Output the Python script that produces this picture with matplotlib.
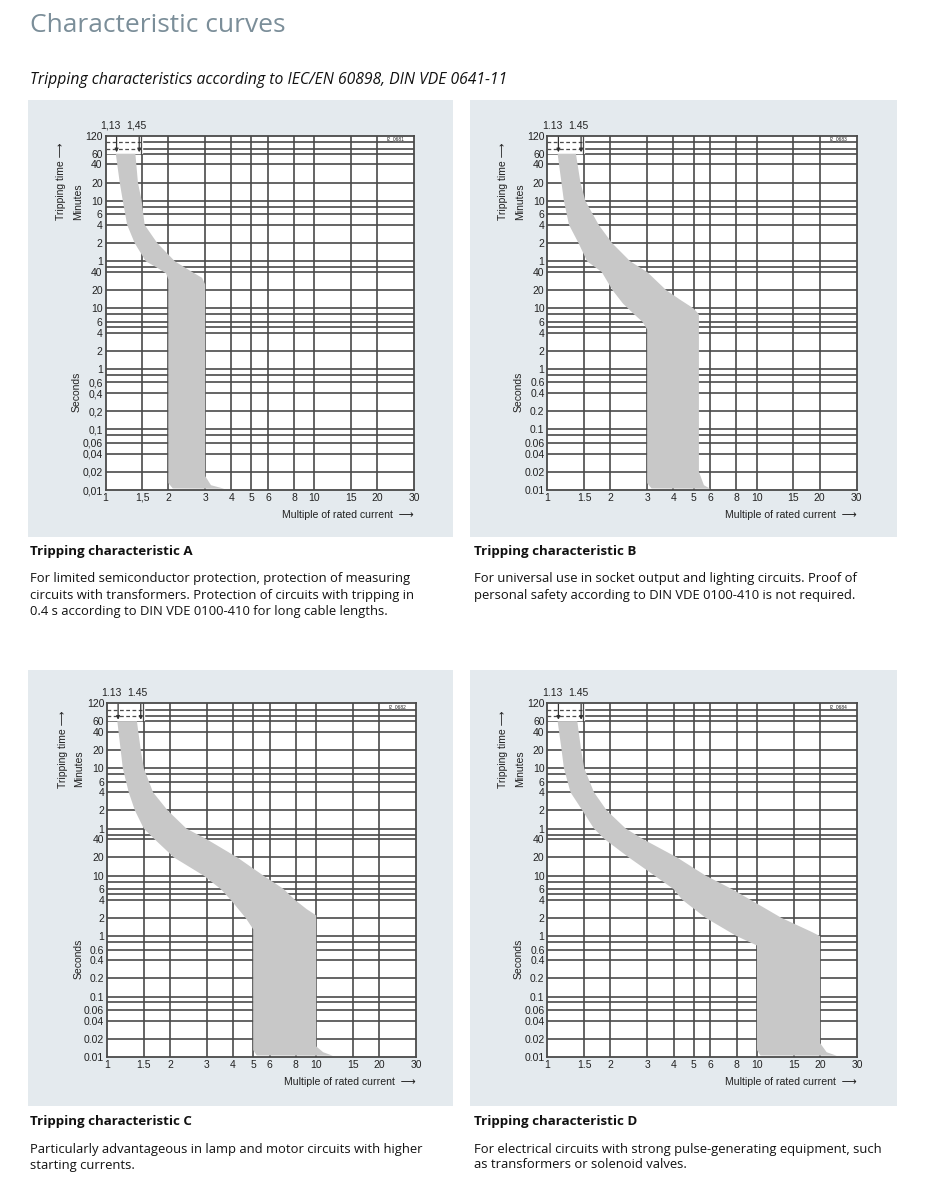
import numpy as np
import matplotlib
matplotlib.use("Agg")
import matplotlib.pyplot as plt
from matplotlib.patches import Rectangle
from matplotlib.transforms import blended_transform_factory

W, H = 925, 1200

# Tripping bands: multiple of rated current (x) and tripping time in seconds (t),
# read along the left (lower) and right (upper) edge of each grey band.
a_left_x = [1.12, 1.17, 1.21, 1.27, 1.38, 1.56, 1.75, 1.95, 2.0, 2.0, 2.1]
a_left_t = [3600, 1200, 600, 240, 120, 60, 48, 38, 30, 0.013, 0.0106]
a_right_x = [1.39, 1.43, 1.49, 1.54, 1.77, 2.15, 2.6, 2.9, 3.0, 3.0, 3.2, 3.7]
a_right_t = [3600, 1200, 600, 240, 120, 60, 40, 32, 25, 0.017, 0.012, 0.0105]

b_left_x = [1.12, 1.20, 1.27, 1.41, 1.55, 1.82, 2.05, 2.3, 2.6, 2.85, 3.0, 3.0, 3.15]
b_left_t = [3600, 600, 240, 120, 60, 40, 20, 12, 8, 6, 4.5, 0.013, 0.0106]
b_right_x = [1.37, 1.44, 1.52, 1.76, 2.04, 2.49, 3.0, 3.7, 4.3, 5.0, 5.3, 5.3, 5.6, 6.0]
b_right_t = [3600, 1200, 600, 240, 120, 60, 40, 20, 14, 10, 8, 0.02, 0.012, 0.0105]

c_left_x = [1.12, 1.19, 1.27, 1.36, 1.5, 1.69, 2.09, 2.9, 3.5, 3.9, 4.6, 5.0, 5.0, 5.2]
c_left_t = [3600, 600, 240, 120, 60, 40, 20, 10, 6, 4, 2, 1.3, 0.013, 0.0106]
c_right_x = [1.39, 1.45, 1.5, 1.66, 1.95, 2.4, 3.0, 4.2, 5.6, 7.0, 7.9, 9.0, 10.0, 10.0, 10.8, 12.0]
c_right_t = [3600, 1200, 600, 240, 120, 60, 40, 20, 10, 6, 4, 2.8, 2.2, 0.015, 0.012, 0.0105]

d_left_x = [1.12, 1.17, 1.2, 1.29, 1.47, 1.67, 1.88, 2.45, 3.25, 4.0, 4.4, 5.7, 8.0, 10.0, 10.0, 10.4]
d_left_t = [3600, 1200, 600, 240, 120, 60, 40, 20, 10, 6, 4, 2, 1, 0.7, 0.013, 0.0106]
d_right_x = [1.39, 1.45, 1.5, 1.67, 1.92, 2.37, 2.87, 4.16, 5.7, 7.6, 9.3, 13.1, 18.0, 20.0, 20.0, 21.5, 24.0]
d_right_t = [3600, 1200, 600, 240, 120, 60, 40, 20, 10, 6, 4, 2, 1.2, 1.0, 0.017, 0.012, 0.0105]

# axis ticks (time in seconds; labels show minutes above 1 min)
x_ticks = [1, 1.5, 2, 3, 4, 5, 6, 8, 10, 15, 20, 30]
x_labels = ["1", "1.5", "2", "3", "4", "5", "6", "8", "10", "15", "20", "30"]
y_ticks = [7200, 3600, 2400, 1200, 600, 360, 240, 120, 60, 40, 20, 10, 6, 4, 2, 1,
           0.6, 0.4, 0.2, 0.1, 0.06, 0.04, 0.02, 0.01]
y_labels = ["120", "60", "40", "20", "10", "6", "4", "2", "1", "40", "20", "10", "6", "4",
            "2", "1", "0.6", "0.4", "0.2", "0.1", "0.06", "0.04", "0.02", "0.01"]
y_grid = [3600, 2400, 1200, 600, 480, 360, 240, 120, 60, 48, 40, 20, 10, 8, 6, 5, 4, 2,
          1, 0.8, 0.6, 0.4, 0.2, 0.1, 0.08, 0.06, 0.04, 0.02]
y_grid_top = [5580, 4320]   # the two lines dashed inside the 1.13 / 1.45 box

panels = [
    dict(key="A", box=(28, 100, 453, 537), ax=(105.5, 135.5, 414, 490), sep=",",
         code="I2_0681", bands=(a_left_x, a_left_t, a_right_x, a_right_t),
         cap_y=551, cap_x=30,
         text=["For limited semiconductor protection, protection of measuring",
               "circuits with transformers. Protection of circuits with tripping in",
               "0.4 s according to DIN VDE 0100-410 for long cable lengths."]),
    dict(key="B", box=(470, 100, 897, 537), ax=(547.3, 135.5, 856.5, 490), sep=".",
         code="I2_0683", bands=(b_left_x, b_left_t, b_right_x, b_right_t),
         cap_y=551, cap_x=474,
         text=["For universal use in socket output and lighting circuits. Proof of",
               "personal safety according to DIN VDE 0100-410 is not required."]),
    dict(key="C", box=(28, 670, 453, 1106), ax=(107, 703, 416, 1057), sep=".",
         code="I2_0682", bands=(c_left_x, c_left_t, c_right_x, c_right_t),
         cap_y=1121, cap_x=30,
         text=["Particularly advantageous in lamp and motor circuits with higher",
               "starting currents."]),
    dict(key="D", box=(470, 670, 897, 1106), ax=(547.3, 703, 857, 1057), sep=".",
         code="I2_0684", bands=(d_left_x, d_left_t, d_right_x, d_right_t),
         cap_y=1121, cap_x=474,
         text=["For electrical circuits with strong pulse-generating equipment, such",
               "as transformers or solenoid valves."]),
]

PANEL_BG = "#e4eaee"
BAND = "#c8c8c8"
GRID = "#4a4a4a"
TXT = "#222222"
LBL_FONT = ["Liberation Sans", "DejaVu Sans"]
CAP_FONT = ["Open Sans", "DejaVu Sans"]


def rect(l, t, r, b):
    return [l / W, 1 - b / H, (r - l) / W, (b - t) / H]


def ftext(x, y, s, **kw):
    fig.text(x / W, 1 - y / H, s, **kw)


fig = plt.figure(figsize=(W / 100, H / 100), dpi=100)
fig.patch.set_facecolor("white")

ftext(30, 25, "Characteristic curves", fontsize=19, color="#7b8e99",
      family=CAP_FONT, va="center")
ftext(30, 80, "Tripping characteristics according to IEC/EN 60898, DIN VDE 0641-11",
      fontsize=11.3, color="#111111", family=CAP_FONT, style="italic", va="center")

for p in panels:
    l, t, r, b = p["box"]
    fig.patches.append(Rectangle((l / W, 1 - b / H), (r - l) / W, (b - t) / H,
                                 transform=fig.transFigure, facecolor=PANEL_BG,
                                 edgecolor="none", zorder=-5))

    al, at, ar, ab = p["ax"]
    ax = fig.add_axes(rect(al, at, ar, ab))
    ax.set_zorder(2)
    ax.set_facecolor("white")
    ax.set_xscale("log")
    ax.set_yscale("log")
    ax.set_xlim(1, 30)
    ax.set_ylim(0.01, 7200)

    # grid
    for gx in x_ticks[1:-1]:
        ax.axvline(gx, color=GRID, lw=1.2, zorder=1)
    for gy in y_grid:
        ax.axhline(gy, color=GRID, lw=1.2, zorder=1)
    for gy in y_grid_top:
        ax.plot([1.5, 30], [gy, gy], color=GRID, lw=1.2, zorder=1)

    # white box with the 1.13 / 1.45 markers
    ax.fill([1.0, 1.5, 1.5, 1.0], [7200, 7200, 3700, 3700], color="white", zorder=1.5)
    for gy in y_grid_top:
        ax.plot([1.0, 1.48], [gy, gy], color=GRID, lw=0.9, ls=(0, (3, 2)), zorder=1.6)
    for mx in (1.13, 1.45):
        ax.annotate("", xy=(mx, 3800), xytext=(mx, 6900),
                    arrowprops=dict(arrowstyle="-|>", color="#333333", lw=0.9,
                                    mutation_scale=5, shrinkA=0, shrinkB=0),
                    zorder=2)
    ax.plot([1.48, 1.48], [7200, 3600], color=GRID, lw=0.9, zorder=1.6)

    # band
    lx, lt, rx, rt = p["bands"]
    ax.fill(np.concatenate([lx, rx[::-1]]), np.concatenate([lt, rt[::-1]]),
            color=BAND, lw=0, zorder=3)

    for s in ax.spines.values():
        s.set_color(GRID)
        s.set_linewidth(1.3)
        s.set_zorder(4)

    sep = p["sep"]
    ax.set_xticks(x_ticks, [v.replace(".", sep) for v in x_labels])
    ax.set_yticks(y_ticks, [v.replace(".", sep) for v in y_labels])
    ax.minorticks_off()
    ax.tick_params(length=0, labelsize=7.5, labelcolor=TXT, pad=2)
    for lab in ax.get_xticklabels() + ax.get_yticklabels():
        lab.set_family(LBL_FONT)

    tr = blended_transform_factory(ax.transData, ax.transAxes)
    ax.text(1.055, 1.013, "1.13".replace(".", sep), transform=tr, ha="center",
            va="bottom", fontsize=7.5, color=TXT, family=LBL_FONT)
    ax.text(1.40, 1.013, "1.45".replace(".", sep), transform=tr, ha="center",
            va="bottom", fontsize=7.5, color=TXT, family=LBL_FONT)
    ax.text(24.5, 6300, p["code"], ha="center", va="center", fontsize=3.5,
            color=TXT, family=LBL_FONT, zorder=5)

    # axis titles
    ftext(al - 44, at + 46, "Tripping time \u27f6", rotation=90, fontsize=7.5,
          color=TXT, family=LBL_FONT, ha="center", va="center")
    ftext(al - 27.5, at + 66, "Minutes", rotation=90, fontsize=7.5,
          color=TXT, family=LBL_FONT, ha="center", va="center")
    ftext(al - 28.5, at + 256, "Seconds", rotation=90, fontsize=7.5,
          color=TXT, family=LBL_FONT, ha="center", va="center")
    ftext(ar, ab + 25, "Multiple of rated current  \u27f6", fontsize=7.6,
          color=TXT, family=LBL_FONT, ha="right", va="center")

    # captions
    ftext(p["cap_x"], p["cap_y"], "Tripping characteristic " + p["key"],
          fontsize=9.6, weight="bold", color="#111111", family=CAP_FONT, va="center")
    for i, line in enumerate(p["text"]):
        ftext(p["cap_x"], p["cap_y"] + 28 + 16 * i, line, fontsize=9.4,
              color="#111111", family=CAP_FONT, va="center")

fig.savefig("out.png", dpi=100)
